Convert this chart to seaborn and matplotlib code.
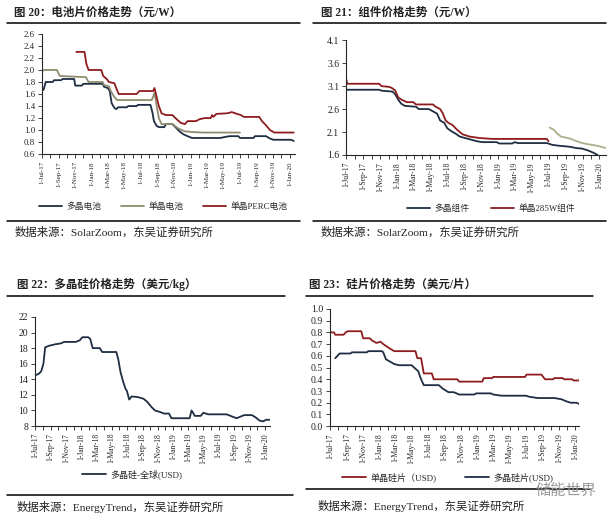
import pandas as pd
import seaborn as sns
import matplotlib.pyplot as plt
import matplotlib.dates as mdates
from matplotlib.lines import Line2D
from matplotlib.ticker import FormatStrFormatter

# ---------------------------------
# Data
# ---------------------------------

# Fig 20: cell prices (yuan/W)
cell_poly_dates = ['2017-07-01', '2017-07-08', '2017-07-15', '2017-08-10', '2017-08-15', '2017-09-10',
                   '2017-09-15', '2017-10-28', '2017-11-01', '2017-11-25', '2017-12-01', '2018-02-10',
                   '2018-02-15', '2018-03-01', '2018-03-08', '2018-03-15', '2018-03-25', '2018-04-01',
                   '2018-04-08', '2018-05-10', '2018-05-15', '2018-06-15', '2018-06-20', '2018-08-05',
                   '2018-08-12', '2018-08-18', '2018-08-28', '2018-09-05', '2018-09-25', '2018-10-01',
                   '2018-10-25', '2018-11-05', '2018-11-20', '2018-12-05', '2018-12-20', '2019-01-05',
                   '2019-04-20', '2019-05-10', '2019-05-25', '2019-06-25', '2019-07-01', '2019-08-20',
                   '2019-08-25', '2019-10-05', '2019-10-20', '2019-11-01', '2020-01-05', '2020-01-15']
cell_poly_vals = [1.65, 1.68, 1.80, 1.80, 1.83, 1.83,
                  1.85, 1.85, 1.74, 1.74, 1.77, 1.77,
                  1.72, 1.70, 1.65, 1.45, 1.37, 1.35,
                  1.38, 1.38, 1.40, 1.40, 1.42, 1.42,
                  1.30, 1.15, 1.07, 1.05, 1.05, 1.10,
                  1.10, 1.05, 0.98, 0.93, 0.90, 0.87,
                  0.87, 0.89, 0.90, 0.90, 0.87, 0.87,
                  0.90, 0.90, 0.86, 0.84, 0.84, 0.82]

cell_mono_dates = ['2017-07-01', '2017-07-10', '2017-08-25', '2017-09-05', '2017-12-10', '2017-12-20',
                   '2018-02-10', '2018-02-15', '2018-03-05', '2018-03-12', '2018-03-25', '2018-04-05',
                   '2018-08-10', '2018-08-20', '2018-08-28', '2018-09-05', '2018-09-15', '2018-10-25',
                   '2018-11-15', '2018-12-10', '2019-01-01', '2019-02-15', '2019-07-01']
cell_mono_vals = [1.98, 2.00, 2.00, 1.90, 1.88, 1.80,
                  1.80, 1.75, 1.73, 1.65, 1.55, 1.50,
                  1.50, 1.62, 1.40, 1.20, 1.10, 1.10,
                  1.03, 0.98, 0.97, 0.96, 0.96]

cell_perc_dates = ['2017-11-05', '2017-12-05', '2017-12-12', '2017-12-20', '2018-02-05', '2018-02-12',
                   '2018-02-25', '2018-03-05', '2018-03-25', '2018-04-01', '2018-04-10', '2018-06-15',
                   '2018-06-25', '2018-08-15', '2018-08-20', '2018-08-28', '2018-09-05', '2018-09-15',
                   '2018-10-01', '2018-10-25', '2018-11-10', '2018-11-25', '2018-12-10', '2018-12-20',
                   '2019-01-20', '2019-02-01', '2019-02-20', '2019-03-15', '2019-03-20', '2019-03-25',
                   '2019-04-05', '2019-05-15', '2019-06-01', '2019-06-20', '2019-07-05', '2019-07-15',
                   '2019-09-10', '2019-09-20', '2019-10-05', '2019-10-20', '2019-11-05', '2020-01-15']
cell_perc_vals = [2.30, 2.30, 2.10, 2.00, 2.00, 1.90,
                  1.85, 1.80, 1.78, 1.70, 1.60, 1.60,
                  1.65, 1.65, 1.70, 1.55, 1.40, 1.28,
                  1.25, 1.25, 1.18, 1.12, 1.10, 1.15,
                  1.15, 1.18, 1.20, 1.20, 1.25, 1.22,
                  1.27, 1.28, 1.30, 1.27, 1.25, 1.22,
                  1.22, 1.15, 1.08, 1.00, 0.96, 0.96]

# Fig 21: module prices (yuan/W)
mod_poly_dates = ['2017-07-01', '2017-10-28', '2017-11-05', '2017-12-15', '2017-12-25', '2018-01-05',
                  '2018-01-15', '2018-01-28', '2018-03-10', '2018-03-20', '2018-04-25', '2018-05-10',
                  '2018-05-25', '2018-06-05', '2018-06-20', '2018-07-01', '2018-07-15', '2018-08-01',
                  '2018-08-15', '2018-09-15', '2018-10-15', '2018-11-05', '2018-12-25', '2019-01-05',
                  '2019-02-20', '2019-03-01', '2019-03-12', '2019-06-25', '2019-07-15', '2019-08-10',
                  '2019-09-15', '2019-10-10', '2019-10-30', '2019-11-20', '2019-12-10', '2019-12-25']
mod_poly_vals = [3.02, 3.02, 3.00, 2.98, 2.92, 2.80,
                 2.72, 2.67, 2.65, 2.60, 2.60, 2.55,
                 2.50, 2.35, 2.30, 2.18, 2.12, 2.06,
                 2.00, 1.95, 1.90, 1.88, 1.88, 1.85,
                 1.85, 1.88, 1.86, 1.86, 1.82, 1.80,
                 1.78, 1.75, 1.74, 1.70, 1.65, 1.60]

mod_mono_dates = ['2017-07-01', '2017-07-05', '2017-10-28', '2017-11-05', '2017-12-05', '2017-12-15',
                  '2017-12-25', '2018-01-05', '2018-01-18', '2018-02-05', '2018-02-28', '2018-03-10',
                  '2018-05-10', '2018-05-20', '2018-06-05', '2018-06-15', '2018-06-25', '2018-07-05',
                  '2018-07-20', '2018-08-05', '2018-08-25', '2018-09-20', '2018-10-25', '2018-12-10',
                  '2019-06-25', '2019-07-01']
mod_mono_vals = [3.25, 3.15, 3.15, 3.10, 3.08, 3.05,
                 3.00, 2.85, 2.80, 2.75, 2.75, 2.70,
                 2.70, 2.65, 2.60, 2.50, 2.35, 2.30,
                 2.25, 2.15, 2.05, 2.00, 1.97, 1.95,
                 1.95, 1.90]

mod_new_dates = ['2019-07-05', '2019-07-20', '2019-08-01', '2019-08-15', '2019-09-01', '2019-09-20',
                 '2019-10-10', '2019-10-30', '2019-11-25', '2019-12-25', '2020-01-25']
mod_new_vals = [2.20, 2.15, 2.07, 2.00, 1.98, 1.95,
                1.90, 1.86, 1.83, 1.80, 1.75]

# Fig 22: polysilicon price (USD/kg)
si_dates = ['2017-07-01', '2017-07-15', '2017-07-25', '2017-08-03', '2017-08-10', '2017-08-25',
            '2017-09-20', '2017-10-10', '2017-10-25', '2017-12-10', '2017-12-25', '2018-01-05',
            '2018-01-28', '2018-02-05', '2018-02-15', '2018-03-15', '2018-03-25', '2018-05-20',
            '2018-05-28', '2018-06-05', '2018-06-15', '2018-06-25', '2018-07-01', '2018-07-10',
            '2018-07-20', '2018-08-15', '2018-09-05', '2018-09-20', '2018-10-05', '2018-10-20',
            '2018-11-10', '2018-11-25', '2018-12-15', '2018-12-25', '2019-03-07', '2019-03-15',
            '2019-03-28', '2019-04-20', '2019-05-01', '2019-05-20', '2019-08-01', '2019-08-25',
            '2019-09-10', '2019-09-25', '2019-10-10', '2019-11-10', '2019-11-25', '2019-12-10',
            '2019-12-25', '2020-01-05', '2020-01-20']
si_vals = [14.5, 14.7, 15.0, 16.0, 18.1, 18.3,
           18.5, 18.6, 18.8, 18.8, 19.0, 19.4,
           19.4, 19.2, 18.0, 18.0, 17.5, 17.5,
           16.5, 15.0, 13.8, 12.8, 12.5, 11.4,
           11.8, 11.7, 11.5, 11.1, 10.5, 10.0,
           9.8, 9.6, 9.6, 9.0, 9.0, 10.0,
           9.3, 9.3, 9.7, 9.5, 9.5, 9.2,
           9.0, 9.2, 9.4, 9.4, 9.1, 8.7,
           8.6, 8.8, 8.8]

# Fig 23: wafer prices (USD/piece)
wafer_mono_dates = ['2017-07-01', '2017-07-15', '2017-07-20', '2017-08-20', '2017-08-28', '2017-09-05',
                    '2017-10-25', '2017-11-01', '2017-11-25', '2017-12-05', '2017-12-20', '2018-01-05',
                    '2018-01-15', '2018-01-28', '2018-02-10', '2018-02-25', '2018-05-15', '2018-05-22',
                    '2018-06-05', '2018-06-15', '2018-07-15', '2018-07-22', '2018-10-18', '2018-10-25',
                    '2019-01-19', '2019-01-25', '2019-02-25', '2019-03-01', '2019-06-28', '2019-07-03',
                    '2019-08-28', '2019-09-10', '2019-10-10', '2019-10-15', '2019-11-15', '2019-11-20',
                    '2019-12-20', '2019-12-25', '2020-01-15']
wafer_mono_vals = [0.80, 0.80, 0.78, 0.78, 0.80, 0.81,
                   0.81, 0.75, 0.75, 0.73, 0.71, 0.72,
                   0.70, 0.68, 0.66, 0.64, 0.64, 0.58,
                   0.58, 0.45, 0.45, 0.40, 0.40, 0.38,
                   0.38, 0.41, 0.41, 0.42, 0.42, 0.44,
                   0.44, 0.40, 0.40, 0.41, 0.41, 0.40,
                   0.40, 0.39, 0.39]

wafer_poly_dates = ['2017-07-20', '2017-07-28', '2017-08-05', '2017-09-15', '2017-09-20', '2017-11-15',
                    '2017-11-20', '2018-01-10', '2018-01-15', '2018-01-25', '2018-02-10', '2018-02-25',
                    '2018-03-15', '2018-05-01', '2018-05-10', '2018-05-25', '2018-06-05', '2018-06-15',
                    '2018-08-10', '2018-08-25', '2018-09-15', '2018-10-05', '2018-10-25', '2018-12-20',
                    '2018-12-28', '2019-02-20', '2019-03-01', '2019-04-01', '2019-07-01', '2019-07-15',
                    '2019-08-15', '2019-10-15', '2019-11-10', '2019-12-01', '2019-12-15', '2020-01-05',
                    '2020-01-15']
wafer_poly_vals = [0.58, 0.60, 0.62, 0.62, 0.63, 0.63,
                   0.64, 0.64, 0.63, 0.57, 0.55, 0.53,
                   0.52, 0.52, 0.50, 0.47, 0.40, 0.35,
                   0.35, 0.32, 0.29, 0.29, 0.27, 0.27,
                   0.28, 0.28, 0.27, 0.26, 0.26, 0.25,
                   0.24, 0.24, 0.23, 0.21, 0.20, 0.20,
                   0.19]

# ---------------------------------
# Style
# ---------------------------------
sns.set_theme(style='ticks')
plt.rcParams['font.family'] = ['Liberation Serif', 'Noto Sans CJK SC', 'DejaVu Sans']
plt.rcParams['axes.linewidth'] = 0.8

NAVY = '#1e2e42'
OLIVE = '#8e8c70'
RED = '#8e1b1e'
LIGHT_OLIVE = '#a9b08c'

fig = plt.figure(figsize=(6.16, 5.21), dpi=100)


def series(dates, vals):
    return pd.DataFrame({'date': pd.to_datetime(dates), 'value': vals})


def setup_axis(ax, ymin, ymax, ystep, fmt, xend, xsize, ysize):
    ax.set_xlim(pd.Timestamp('2017-07-01'), pd.Timestamp(xend))
    ax.set_ylim(ymin, ymax)
    ax.set_yticks([round(ymin + i * ystep, 2) for i in range(int(round((ymax - ymin) / ystep)) + 1)])
    ax.yaxis.set_major_formatter(FormatStrFormatter(fmt))
    ax.xaxis.set_major_locator(mdates.MonthLocator(bymonth=[1, 3, 5, 7, 9, 11]))
    ax.xaxis.set_minor_locator(mdates.MonthLocator())
    ax.xaxis.set_major_formatter(mdates.DateFormatter('1-%b-%y'))
    ax.tick_params(axis='x', which='both', length=3, width=0.6, colors='#222222')
    ax.tick_params(axis='x', labelsize=xsize, pad=2, labelrotation=90)
    ax.tick_params(axis='y', labelsize=ysize, length=3, width=0.6, pad=2, colors='#222222')
    sns.despine(ax=ax)
    ax.set_xlabel('')
    ax.set_ylabel('')


def hline(y, x0, x1):
    fig.add_artist(Line2D([x0, x1], [y, y], transform=fig.transFigure, color='black', lw=1.1))


leg_kw = dict(loc='center', bbox_transform=fig.transFigure, frameon=False, handlelength=2.6, handletextpad=0.5)

# ---------------------------------
# Fig 20
# ---------------------------------
ax1 = fig.add_axes([0.068, 0.704, 0.411, 0.231])
sns.lineplot(data=series(cell_poly_dates, cell_poly_vals), x='date', y='value', ax=ax1, color=NAVY, lw=1.3, label='多晶电池')
sns.lineplot(data=series(cell_mono_dates, cell_mono_vals), x='date', y='value', ax=ax1, color=OLIVE, lw=1.3, label='单晶电池')
sns.lineplot(data=series(cell_perc_dates, cell_perc_vals), x='date', y='value', ax=ax1, color=RED, lw=1.3, label='单晶PERC电池')
setup_axis(ax1, 0.6, 2.6, 0.2, '%.1f', '2020-01-20', 5.0, 6.3)
ax1.legend(bbox_to_anchor=(0.265, 0.603), ncol=3, fontsize=6.3, columnspacing=2.3, **leg_kw)

# ---------------------------------
# Fig 21
# ---------------------------------
ax2 = fig.add_axes([0.562, 0.7025, 0.422, 0.2205])
sns.lineplot(data=series(mod_poly_dates, mod_poly_vals), x='date', y='value', ax=ax2, color=NAVY, lw=1.3, label='多晶组件')
sns.lineplot(data=series(mod_mono_dates, mod_mono_vals), x='date', y='value', ax=ax2, color=RED, lw=1.3, label='单晶285W组件')
sns.lineplot(data=series(mod_new_dates, mod_new_vals), x='date', y='value', ax=ax2, color=LIGHT_OLIVE, lw=1.3)
setup_axis(ax2, 1.6, 4.1, 0.5, '%.1f', '2020-01-25', 5.5, 7.0)
ax2.legend(bbox_to_anchor=(0.797, 0.599), ncol=2, fontsize=6.3, columnspacing=2.5, **leg_kw)

# ---------------------------------
# Fig 22
# ---------------------------------
ax3 = fig.add_axes([0.057, 0.1823, 0.381, 0.2093])
sns.lineplot(data=series(si_dates, si_vals), x='date', y='value', ax=ax3, color=NAVY, lw=1.3, label='多晶硅-全球(USD)')
setup_axis(ax3, 8, 22, 2, '%d', '2020-01-20', 5.5, 7.0)
ax3.legend(bbox_to_anchor=(0.215, 0.090), ncol=1, fontsize=6.5, **leg_kw)

# ---------------------------------
# Fig 23
# ---------------------------------
ax4 = fig.add_axes([0.536, 0.182, 0.404, 0.225])
sns.lineplot(data=series(wafer_mono_dates, wafer_mono_vals), x='date', y='value', ax=ax4, color=RED, lw=1.3, label='单晶硅片（USD)')
sns.lineplot(data=series(wafer_poly_dates, wafer_poly_vals), x='date', y='value', ax=ax4, color=NAVY, lw=1.3, label='多晶硅片(USD)')
setup_axis(ax4, 0.0, 1.0, 0.1, '%.1f', '2020-01-15', 5.5, 7.0)
ax4.legend(bbox_to_anchor=(0.727, 0.0845), ncol=2, fontsize=6.5, columnspacing=3.2, **leg_kw)

# ---------------------------------
# Titles, rules and sources
# ---------------------------------
title_kw = dict(fontsize=8.3, fontweight='bold', color='#222222', va='center', ha='left')
fig.text(0.022, 0.975, '图 20：电池片价格走势（元/W）', **title_kw)
fig.text(0.521, 0.975, '图 21：组件价格走势（元/W）', **title_kw)
fig.text(0.027, 0.453, '图 22：多晶硅价格走势（美元/kg）', **title_kw)
fig.text(0.502, 0.453, '图 23：硅片价格走势（美元/片）', **title_kw)

hline(0.956, 0.011, 0.487)
hline(0.956, 0.508, 0.984)
hline(0.576, 0.011, 0.487)
hline(0.576, 0.508, 0.984)
hline(0.432, 0.011, 0.463)
hline(0.432, 0.497, 0.963)
hline(0.050, 0.011, 0.476)
hline(0.061, 0.497, 0.960)

src_kw = dict(fontsize=8.2, color='#222222', va='center', ha='left')
fig.text(0.024, 0.555, '数据来源：SolarZoom，东吴证券研究所', **src_kw)
fig.text(0.521, 0.555, '数据来源：SolarZoom，东吴证券研究所', **src_kw)
fig.text(0.027, 0.027, '数据来源：EnergyTrend，东吴证券研究所', **src_kw)
fig.text(0.516, 0.029, '数据来源：EnergyTrend，东吴证券研究所', **src_kw)

# watermark
fig.text(0.968, 0.058, '储能世界', fontsize=11, color='#9a9a9a', ha='right', va='center',
         family=['Noto Sans CJK SC', 'DejaVu Sans'])

fig.savefig('out.png', dpi=100)
